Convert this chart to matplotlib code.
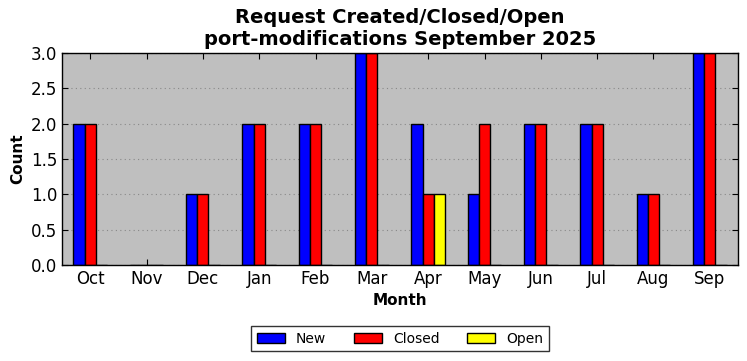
import matplotlib
matplotlib.use("Agg")
import matplotlib.pyplot as plt
import numpy as np

months = ["Oct", "Nov", "Dec", "Jan", "Feb", "Mar", "Apr", "May", "Jun", "Jul", "Aug", "Sep"]
new = [2, 0, 1, 2, 2, 3, 2, 1, 2, 2, 1, 3]
closed = [2, 0, 1, 2, 2, 3, 1, 2, 2, 2, 1, 3]
opened = [0, 0, 0, 0, 0, 0, 1, 0, 0, 0, 0, 0]

series = [("New", new, "blue"), ("Closed", closed, "red"), ("Open", opened, "yellow")]

fig = plt.figure(figsize=(7.47, 3.61), dpi=100)
ax = fig.add_axes([62/747, 1 - 265/361, (738-62)/747, (265-53)/361])
ax.set_facecolor("#bfbfbf")

x = np.arange(len(months))
w = 0.2
for i, (name, vals, col) in enumerate(series):
    ax.bar(x + (i - 1) * w, vals, width=w, color=col, edgecolor="black", linewidth=1, label=name, zorder=2)

ax.set_xlim(-0.5, len(months) - 0.5)
ax.set_ylim(0, 3.0)
ax.set_yticks(np.arange(0, 3.01, 0.5))
ax.set_yticklabels([f"{v:.1f}" for v in np.arange(0, 3.01, 0.5)])
ax.set_xticks(x)
ax.set_xticklabels(months)
ax.tick_params(direction="in", top=True, right=True, labelsize=12, length=4)
ax.yaxis.grid(True, linestyle=(0, (1, 3)), color="#888888", linewidth=0.8, zorder=1)
ax.set_axisbelow(True)
for s in ax.spines.values():
    s.set_linewidth(1)

ax.set_xlabel("Month", fontsize=11, fontweight="bold")
ax.set_ylabel("Count", fontsize=11, fontweight="bold")
ax.set_title("Request Created/Closed/Open\nport-modifications September 2025", fontsize=14, fontweight="bold", linespacing=1.2)

leg = ax.legend(loc="upper center", bbox_to_anchor=(0.5, -0.255), ncol=3, fontsize=10,
                frameon=True, fancybox=False, edgecolor="black", handlelength=2, columnspacing=2,
                borderpad=0.4)
leg.get_frame().set_linewidth(1)

fig.savefig("out.png", dpi=100)
